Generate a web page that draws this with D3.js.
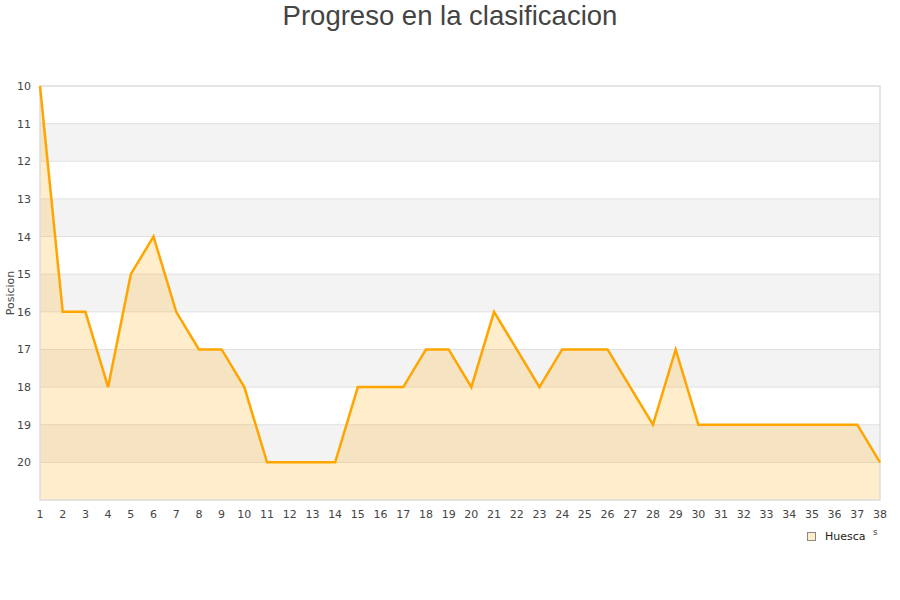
<!DOCTYPE html>
<html><head><meta charset="utf-8">
<script src="https://cdn.jsdelivr.net/npm/d3@7"></script>
<style>body{margin:0;background:#fff;}svg{display:block;}</style>
</head><body>
<script>
const title = "Progreso en la clasificacion";
const yLabel = "Posicion";
const seriesName = "Huesca";
const jornadas = d3.range(1, 39);
const posiciones = [10,16,16,18,15,14,16,17,17,18,20,20,20,20,18,18,18,17,17,18,16,17,18,17,17,17,18,19,17,19,19,19,19,19,19,19,19,20];
const yTicks = [10,11,12,13,14,15,16,17,18,19,20];

const W = 900, H = 600;
const m = {l:40, r:20, t:86, b:100};
const svg = d3.select("body").append("svg").attr("width", W).attr("height", H);
const x = d3.scaleLinear().domain([1, 38]).range([m.l, W - m.r]);
const y = d3.scaleLinear().domain([10, 21]).range([m.t, H - m.b]);
const font = "'DejaVu Sans', sans-serif";

// bands
const bands = d3.range(10, 21);
svg.selectAll("rect.band").data(bands).enter().append("rect")
  .attr("x", x(1)).attr("width", x(38) - x(1))
  .attr("y", d => y(d)).attr("height", d => y(d + 1) - y(d))
  .attr("fill", d => (d % 2 === 1) ? "#f3f3f3" : "#ffffff");
// gridlines
svg.selectAll("line.grid").data(d3.range(11, 21)).enter().append("line")
  .attr("x1", x(1)).attr("x2", x(38))
  .attr("y1", d => y(d)).attr("y2", d => y(d))
  .attr("stroke", "#e0e0e0").attr("stroke-width", 1);

const data = jornadas.map((j, i) => ({j, p: posiciones[i]}));
svg.append("path").datum(data)
  .attr("d", d3.area().x(d => x(d.j)).y0(y(21)).y1(d => y(d.p)))
  .attr("fill", "#ffa500").attr("fill-opacity", 0.2);

// border
svg.append("rect").attr("x", x(1)).attr("y", y(10))
  .attr("width", x(38) - x(1)).attr("height", y(21) - y(10))
  .attr("fill", "none").attr("stroke", "#dddddd").attr("stroke-width", 1.5);

svg.append("path").datum(data)
  .attr("d", d3.line().x(d => x(d.j)).y(d => y(d.p)))
  .attr("fill", "none").attr("stroke", "#ffa500").attr("stroke-width", 2.5)
  .attr("stroke-linejoin", "miter");

// y ticks
svg.selectAll("text.yt").data(yTicks).enter().append("text")
  .attr("x", 31).attr("y", d => y(d) + 4)
  .attr("text-anchor", "end").attr("font-family", font).attr("font-size", 11)
  .attr("fill", "#444").text(d => d);
// x ticks
svg.selectAll("text.xt").data(jornadas).enter().append("text")
  .attr("x", d => x(d)).attr("y", 518)
  .attr("text-anchor", "middle").attr("font-family", font).attr("font-size", 11)
  .attr("fill", "#444").text(d => d);

// y label
svg.append("text").attr("transform", `translate(14,${(y(10)+y(21))/2}) rotate(-90)`)
  .attr("text-anchor", "middle").attr("font-family", font).attr("font-size", 11)
  .attr("fill", "#444").text(yLabel);

// title
svg.append("text").attr("x", W/2).attr("y", 25).attr("text-anchor", "middle")
  .attr("font-family", "'Liberation Sans', Arial, sans-serif").attr("font-size", 27.5)
  .attr("fill", "#444").text(title);

// legend
svg.append("rect").attr("x", 807.5).attr("y", 532.5).attr("width", 8).attr("height", 8)
  .attr("fill", "#ffecc9").attr("stroke", "#888").attr("stroke-width", 1);
svg.append("text").attr("x", 825).attr("y", 540).attr("font-family", font)
  .attr("font-size", 11).attr("fill", "#222").text(seriesName);
svg.append("text").attr("x", 873).attr("y", 535).attr("font-family", font)
  .attr("font-size", 9).attr("fill", "#444").text("s");
</script>
</body></html>
